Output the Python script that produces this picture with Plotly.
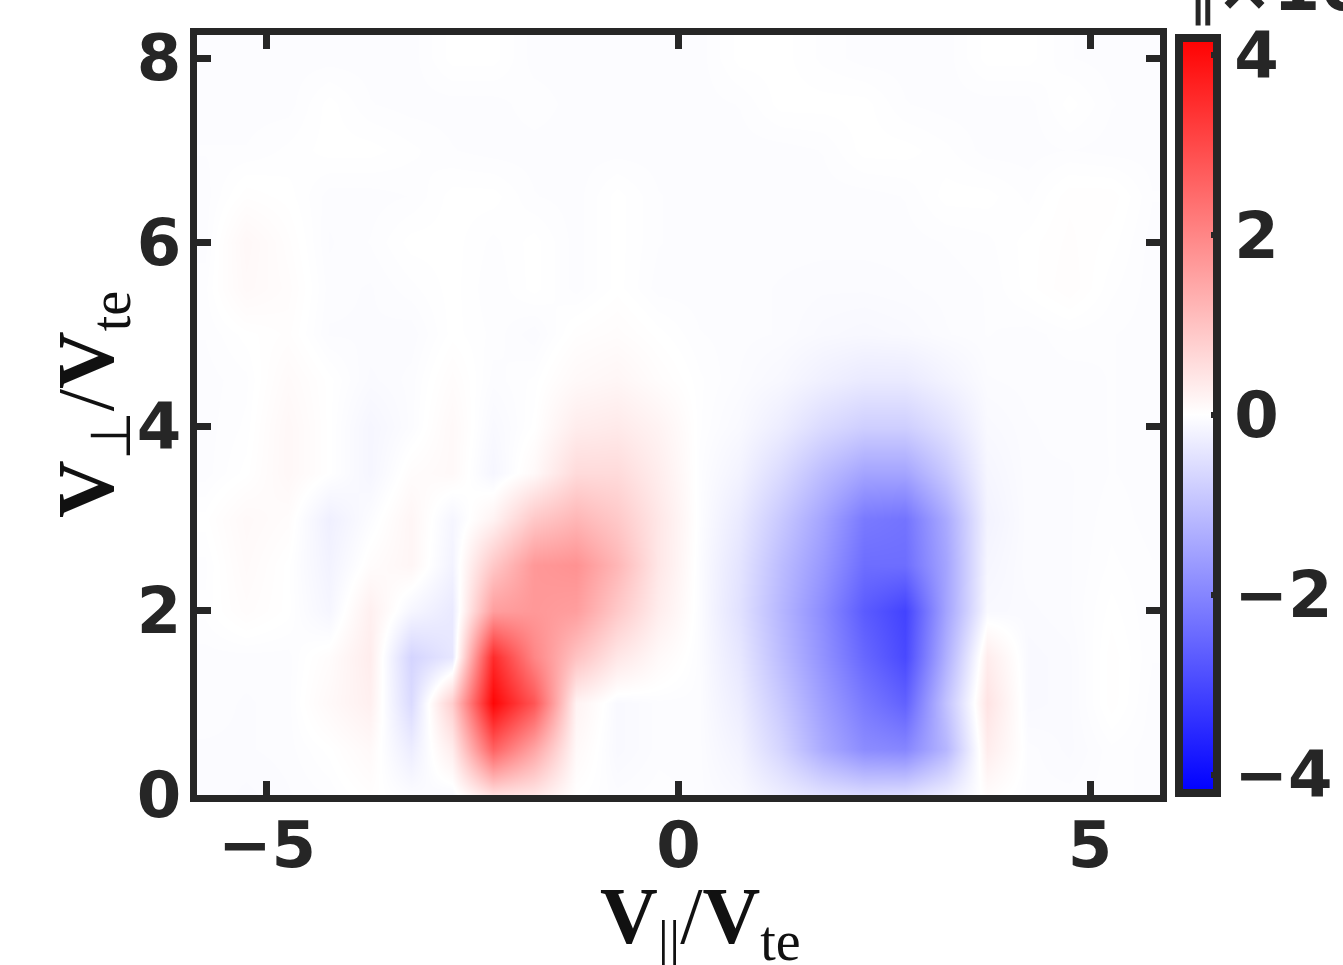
import plotly.graph_objects as go

# Grid of the velocity-space map (parallel and perpendicular velocity, in units of V_te)
v_par = [-5.75, -5.25, -4.75, -4.25, -3.75, -3.25, -2.75, -2.25, -1.75, -1.25, -0.75, -0.25,
         0.25, 0.75, 1.25, 1.75, 2.25, 2.75, 3.25, 3.75, 4.25, 4.75, 5.25, 5.75]
v_perp = [0.0, 0.5, 1.0, 1.5, 2.0, 2.5, 3.0, 3.5, 4.0, 4.5, 5.0, 5.5, 6.0, 6.5, 7.0, 7.5, 8.0]

# Perturbation of the distribution (x10 scale shown on the colour bar), one row per v_perp
row_00 = [-0.06, -0.08, -0.06, -0.04, 0.02, -0.05, -0.1, 0.5, 0.4, 0.0, -0.05, -0.03, -0.05, -0.1, -0.3, -0.5, -0.6, -0.55, -0.3, 0.05, -0.05, -0.05, -0.03, -0.05]
row_05 = [-0.06, -0.06, -0.05, 0.0, 0.1, -0.3, 0.3, 2.6, 1.5, 0.1, -0.1, -0.05, -0.05, -0.2, -0.7, -1.4, -1.9, -2.0, -1.2, 0.3, -0.05, -0.08, -0.03, -0.05]
row_10 = [-0.05, -0.06, -0.05, 0.1, 0.25, -0.6, 0.8, 4.1, 2.8, 0.2, -0.1, -0.05, -0.05, -0.3, -0.9, -1.6, -2.2, -2.6, -1.0, 0.45, -0.1, -0.08, 0.02, -0.05]
row_15 = [-0.05, -0.05, -0.05, 0.05, 0.3, -0.7, -0.4, 3.5, 2.0, 1.0, 0.4, 0.1, -0.05, -0.4, -1.1, -1.8, -2.5, -3.0, -1.3, 0.3, -0.1, -0.08, 0.02, -0.04]
row_20 = [-0.02, 0.05, 0.0, -0.15, 0.25, -0.15, -0.35, 1.6, 1.7, 1.6, 0.9, 0.3, -0.05, -0.5, -1.2, -1.9, -2.7, -3.1, -1.5, -0.1, -0.08, -0.06, 0.0, -0.04]
row_25 = [-0.03, 0.08, 0.0, -0.2, 0.05, 0.15, -0.2, 0.9, 1.7, 1.8, 1.2, 0.4, -0.05, -0.45, -1.1, -1.7, -2.4, -2.4, -1.5, -0.15, -0.06, -0.06, -0.02, -0.04]
row_30 = [0.0, 0.1, 0.05, -0.25, -0.05, 0.15, -0.15, 0.2, 0.9, 1.2, 0.9, 0.4, -0.03, -0.35, -0.9, -1.5, -2.2, -2.3, -1.4, -0.2, -0.06, -0.06, -0.03, -0.05]
row_35 = [-0.05, 0.0, 0.12, 0.0, -0.15, 0.05, 0.1, -0.15, 0.1, 0.6, 0.6, 0.3, -0.03, -0.2, -0.6, -1.1, -1.5, -1.5, -0.9, -0.15, -0.06, -0.06, -0.04, -0.05]
row_40 = [-0.05, -0.02, 0.12, 0.0, -0.15, -0.05, 0.1, -0.1, 0.0, 0.3, 0.35, 0.2, -0.02, -0.1, -0.3, -0.6, -0.8, -0.8, -0.5, -0.1, -0.06, -0.05, -0.04, -0.05]
row_45 = [-0.05, -0.03, 0.08, 0.0, -0.08, -0.05, 0.05, -0.05, -0.02, 0.1, 0.15, 0.05, -0.02, -0.06, -0.12, -0.25, -0.35, -0.35, -0.2, -0.06, -0.05, -0.05, -0.04, -0.05]
row_50 = [-0.04, 0.0, 0.03, -0.06, -0.06, -0.07, 0.0, -0.03, -0.07, 0.02, 0.05, 0.0, -0.04, -0.05, -0.06, -0.1, -0.12, -0.1, -0.06, -0.04, -0.05, -0.03, -0.04, -0.05]
row_55 = [-0.03, 0.1, 0.05, -0.05, -0.06, -0.03, 0.0, -0.04, 0.0, -0.05, 0.0, -0.05, -0.05, -0.05, -0.06, -0.07, -0.07, -0.06, -0.05, -0.04, 0.0, 0.04, -0.02, -0.05]
row_60 = [-0.05, 0.12, 0.03, -0.06, -0.04, 0.0, 0.0, -0.03, 0.0, -0.05, 0.0, -0.04, -0.05, -0.05, -0.05, -0.05, -0.05, -0.05, -0.04, -0.03, 0.0, 0.03, 0.0, -0.05]
row_65 = [-0.05, 0.02, 0.0, -0.05, -0.05, -0.04, 0.0, 0.0, -0.04, -0.05, 0.0, -0.04, -0.05, -0.05, -0.05, -0.05, -0.05, -0.04, 0.0, 0.0, -0.03, 0.02, 0.02, -0.04]
row_70 = [-0.04, -0.04, -0.02, 0.0, 0.0, -0.02, -0.04, -0.05, -0.05, -0.05, -0.05, -0.05, -0.05, -0.05, -0.05, -0.04, 0.0, 0.0, -0.02, -0.05, -0.05, -0.04, -0.05, -0.05]
row_75 = [-0.05, -0.05, -0.05, 0.0, -0.04, -0.05, -0.05, -0.05, -0.03, -0.05, -0.05, -0.05, -0.05, -0.04, 0.0, 0.0, 0.0, -0.04, -0.05, -0.05, -0.05, 0.0, -0.04, -0.05]
row_80 = [-0.05, -0.05, -0.05, -0.05, -0.05, -0.05, 0.0, 0.0, -0.05, -0.05, -0.05, -0.05, -0.05, 0.0, 0.0, -0.03, -0.05, -0.05, -0.05, 0.0, 0.0, -0.04, -0.05, -0.05]

delta_f = [row_00, row_05, row_10, row_15, row_20, row_25, row_30, row_35, row_40,
           row_45, row_50, row_55, row_60, row_65, row_70, row_75, row_80]

x_ticks = [-5, 0, 5]
y_ticks = [0, 2, 4, 6, 8]
cbar_ticks = [-4, -2, 0, 2, 4]

INK = "#262626"
TICK_FONT = dict(family="DejaVu Sans", size=64, color=INK, weight="bold")
TITLE_FONT = dict(family="Liberation Serif", size=80, color="#111111")

# plot area in pixels: x 197..1160, y 35..795
PX_L, PX_R, PX_T, PX_B = 197, 1160, 35, 795


def paper_x(px):
    return (px - PX_L) / (PX_R - PX_L)


def paper_y(py):
    return (PX_B - py) / (PX_B - PX_T)


def minus(v):
    return str(v).replace("-", "\u2212")


fig = go.Figure(
    go.Heatmap(
        x=v_par,
        y=v_perp,
        z=delta_f,
        zsmooth="best",
        zmin=-4.2,
        zmax=4.2,
        colorscale=[[0.0, "rgb(0,0,255)"], [0.5, "rgb(255,255,255)"], [1.0, "rgb(255,0,0)"]],
        colorbar=dict(
            x=paper_x(1179),
            xanchor="left",
            y=0.5,
            yanchor="middle",
            len=0.993,
            thickness=38,
            outlinewidth=8,
            outlinecolor=INK,
            ticks="inside",
            ticklen=10,
            tickwidth=6,
            tickcolor=INK,
            tickvals=cbar_ticks,
            ticktext=[minus(t) for t in cbar_ticks],
            tickfont=TICK_FONT,
            ypad=0,
            xpad=0,
        ),
    )
)

axis_common = dict(
    showline=True,
    linewidth=7,
    linecolor=INK,
    mirror="ticks",
    ticks="inside",
    ticklen=14,
    tickwidth=7,
    tickcolor=INK,
    tickfont=TICK_FONT,
    showgrid=False,
    zeroline=False,
)

fig.update_xaxes(
    range=[-5.85, 5.85],
    tickvals=x_ticks,
    ticktext=[minus(t) for t in x_ticks],
    ticklabelstandoff=-12,
    **axis_common,
)
fig.update_yaxes(
    range=[0, 8.25],
    tickvals=y_ticks,
    ticklabelstandoff=-4,
    **axis_common,
)

# Axis titles
fig.add_annotation(
    text="<b>V</b><sub>||</sub>/<b>V</b><sub>te</sub>",
    xref="paper", yref="paper",
    x=paper_x(700), y=paper_y(922),
    xanchor="center", yanchor="middle",
    showarrow=False, font=TITLE_FONT,
)
fig.add_annotation(
    text="<b>V</b><sub>\u22a5</sub>/<b>V</b><sub>te</sub>",
    xref="paper", yref="paper",
    x=paper_x(92), y=paper_y(405),
    xanchor="center", yanchor="middle",
    textangle=-90,
    showarrow=False, font=TITLE_FONT,
)

# Scale factor above the colour bar
fig.add_annotation(
    text="\u2016",
    xref="paper", yref="paper",
    x=paper_x(1186), y=paper_y(28),
    xanchor="left", yanchor="bottom",
    showarrow=False,
    font=dict(family="DejaVu Sans", size=60, color=INK),
)
fig.add_annotation(
    text="<b>\u00d710</b>",
    xref="paper", yref="paper",
    x=paper_x(1214), y=paper_y(28),
    xanchor="left", yanchor="bottom",
    showarrow=False,
    font=dict(family="DejaVu Sans", size=68, color=INK),
)

fig.update_layout(
    width=1343,
    height=965,
    margin=dict(l=PX_L, r=1343 - PX_R, t=PX_T, b=965 - PX_B, autoexpand=False),
    paper_bgcolor="white",
    plot_bgcolor="white",
)

fig.write_html("out.html")
